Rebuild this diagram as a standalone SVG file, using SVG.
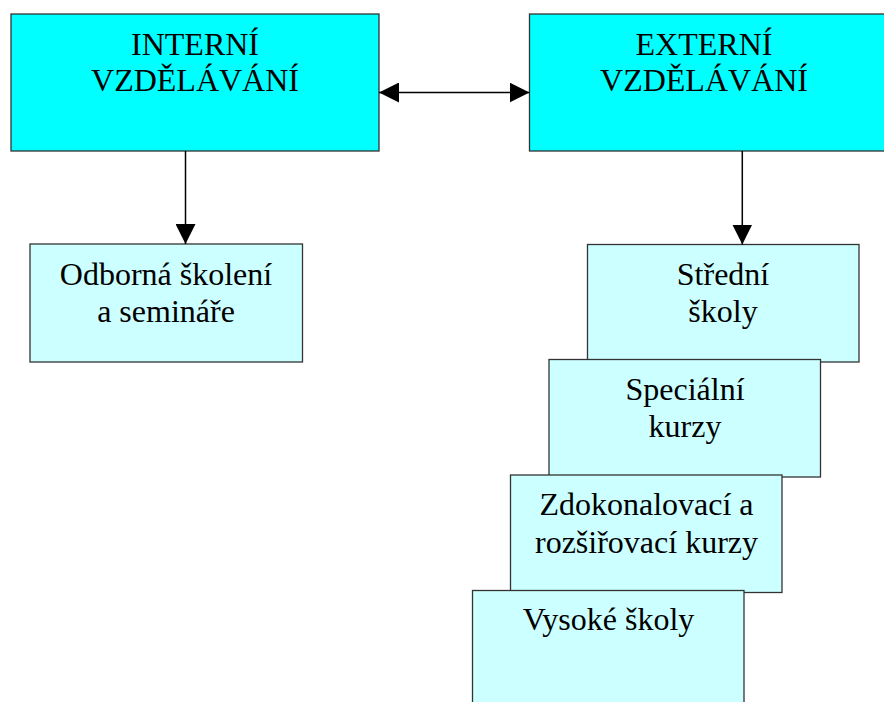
<svg xmlns="http://www.w3.org/2000/svg" width="884" height="702" viewBox="0 0 884 702">
<defs>
<style>
.main{fill:#00FFFF;stroke:#333333;stroke-width:1.3}
.sub{fill:#CCFFFF;stroke:#333333;stroke-width:1.3}
.lbl{font-family:"Liberation Serif","Times New Roman",serif;font-size:32px;fill:#000;text-anchor:middle}
.conn{stroke:#000;stroke-width:1.5;fill:none}
</style>
<marker id="ah" viewBox="0 0 20 20" refX="20" refY="10" markerWidth="20" markerHeight="20" markerUnits="userSpaceOnUse" orient="auto-start-reverse">
<path d="M0,0 L20,10 L0,20 Z" fill="#000"/>
</marker>
</defs>
<rect width="884" height="702" fill="#fff"/>
<g id="interni">
<rect class="main" x="11" y="14" width="368" height="137"/>
<text class="lbl" x="195" y="55">INTERNÍ</text>
<text class="lbl" x="195" y="91">VZDĚLÁVÁNÍ</text>
</g>
<g id="externi">
<rect class="main" x="529.5" y="14" width="370" height="137"/>
<text class="lbl" x="704" y="55">EXTERNÍ</text>
<text class="lbl" x="704" y="91">VZDĚLÁVÁNÍ</text>
</g>
<g id="odborna">
<rect class="sub" x="30" y="244" width="272.5" height="118"/>
<text class="lbl" x="166" y="285">Odborná školení</text>
<text class="lbl" x="166" y="321.5">a semináře</text>
</g>
<g id="stredni">
<rect class="sub" x="587.5" y="244.5" width="271.5" height="117.5"/>
<text class="lbl" x="723" y="285">Střední</text>
<text class="lbl" x="723" y="321.5">školy</text>
</g>
<g id="specialni">
<rect class="sub" x="549" y="359.5" width="271.5" height="117.5"/>
<text class="lbl" x="685" y="400">Speciální</text>
<text class="lbl" x="685" y="436.5">kurzy</text>
</g>
<g id="zdokonalovaci">
<rect class="sub" x="510.5" y="475" width="271.5" height="117.5"/>
<text class="lbl" x="646.5" y="515">Zdokonalovací a</text>
<text class="lbl" x="646.5" y="552.5">rozšiřovací kurzy</text>
</g>
<g id="vysoke">
<rect class="sub" x="472.5" y="590.5" width="271.5" height="140"/>
<text class="lbl" x="608.5" y="630">Vysoké školy</text>
</g>
<g id="connectors">
<line class="conn" x1="379" y1="92.5" x2="529.5" y2="92.5" marker-start="url(#ah)" marker-end="url(#ah)"/>
<line class="conn" x1="185.5" y1="151" x2="185.5" y2="244" marker-end="url(#ah)"/>
<line class="conn" x1="742.3" y1="151" x2="742.3" y2="244.5" marker-end="url(#ah)"/>
</g>
</svg>
